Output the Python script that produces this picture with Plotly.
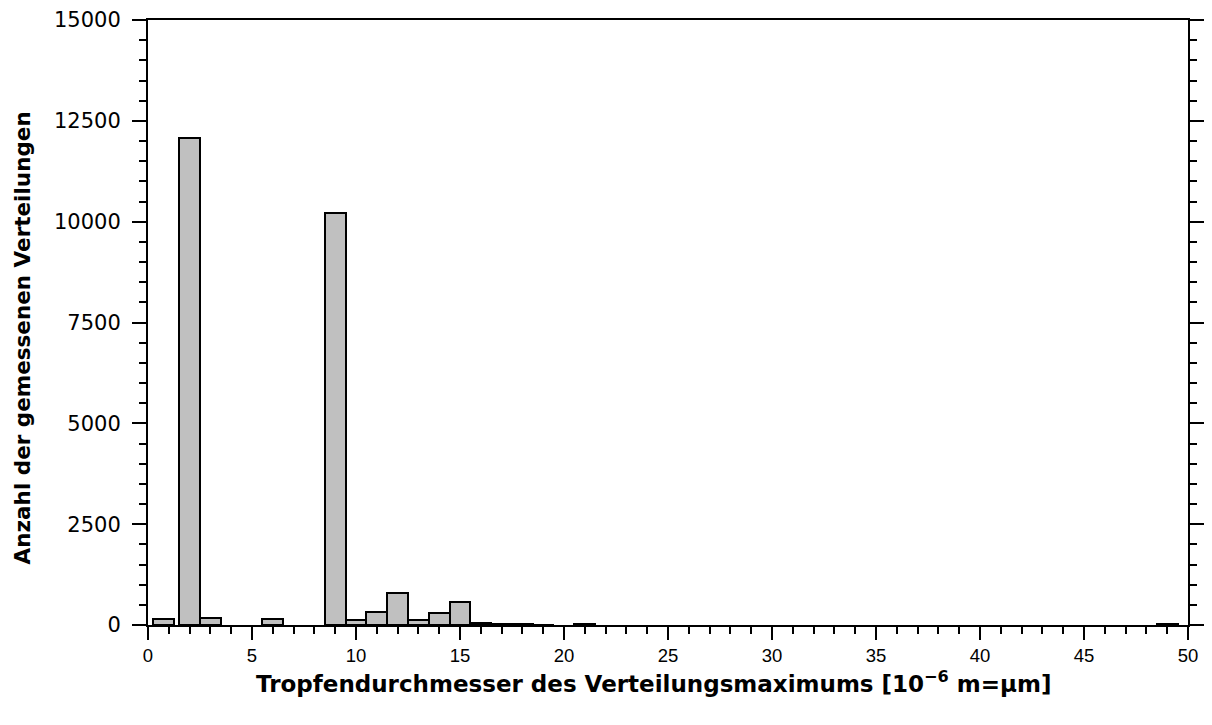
import plotly.graph_objects as go

# Bin centres (µm) and counts
diameters = [0.75, 2, 3, 6, 9, 10, 11, 12, 13, 14, 15, 16, 17, 18, 19, 21, 49]
counts = [150, 12080, 175, 150, 10220, 115, 315, 785, 125, 300, 563, 50, 30, 25, 12, 20, 25]

x_ticks = [0, 5, 10, 15, 20, 25, 30, 35, 40, 45, 50]
y_ticks = [0, 2500, 5000, 7500, 10000, 12500, 15000]

fig = go.Figure()
fig.add_trace(go.Bar(
    x=diameters, y=counts, width=[1.0] * len(diameters),
    marker=dict(color="#c0c0c0", line=dict(color="black", width=2)),
    showlegend=False,
))

fig.update_layout(
    width=1212, height=725,
    margin=dict(l=140, r=32, t=12, b=108, autoexpand=False),
    plot_bgcolor="white", paper_bgcolor="white",
    bargap=0,
    xaxis=dict(
        range=[0, 50], tickvals=x_ticks, ticktext=[str(v) for v in x_ticks],
        automargin=False,
        showline=True, linecolor="black", linewidth=2, mirror=True,
        ticks="outside", ticklen=13, tickwidth=2, tickcolor="black",
        minor=dict(dtick=1, ticks="outside", ticklen=7, tickwidth=2, tickcolor="black"),
        showgrid=False, zeroline=False,
        tickfont=dict(family="Liberation Sans", size=18.5, color="black"),
    ),
    yaxis=dict(
        range=[0, 15000], tickvals=y_ticks, ticktext=[str(v) for v in y_ticks],
        automargin=False,
        showline=True, linecolor="black", linewidth=2, mirror="allticks",
        ticks="outside", ticklen=14, tickwidth=2, tickcolor="black",
        minor=dict(dtick=500, ticks="outside", ticklen=7, tickwidth=2, tickcolor="black"),
        showgrid=False, zeroline=False, ticklabelstandoff=7,
        tickfont=dict(family="DejaVu Sans", size=21, color="black"),
    ),
    annotations=[
        dict(text="Tropfendurchmesser des Verteilungsmaximums [10<sup>\u22126</sup> m=\u00b5m]",
             xref="paper", yref="paper", x=0.4865, y=-0.095, xanchor="center", yanchor="middle",
             showarrow=False, font=dict(family="DejaVu Sans", size=23, color="black", weight="bold")),
        dict(text="Anzahl der gemessenen Verteilungen", textangle=-90,
             xref="paper", yref="paper", x=-0.121, y=0.474, xanchor="center", yanchor="middle",
             showarrow=False, font=dict(family="DejaVu Sans", size=21.5, color="black", weight="bold")),
    ],
)

fig.write_html("out.html")
